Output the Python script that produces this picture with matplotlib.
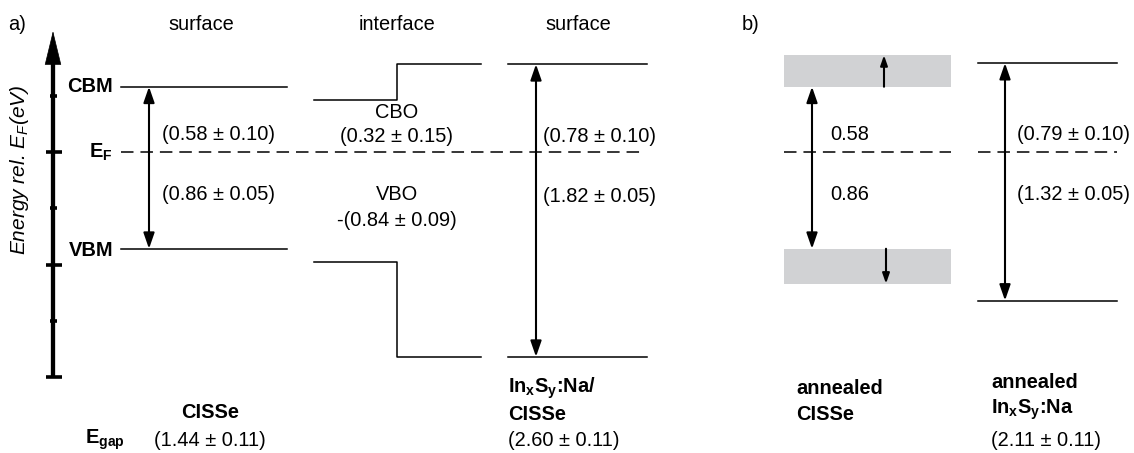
import matplotlib
matplotlib.use('Agg')
import matplotlib.pyplot as plt

plt.rcParams['font.family'] = ['Liberation Sans', 'DejaVu Sans']
plt.rcParams['mathtext.fontset'] = 'custom'
plt.rcParams['mathtext.rm'] = 'Liberation Sans'
plt.rcParams['mathtext.it'] = 'Liberation Sans:italic'
plt.rcParams['mathtext.bf'] = 'Liberation Sans:bold'
plt.rcParams['lines.scale_dashes'] = False

# band energies relative to E_F (eV)
cisse_surface = [0.58, -0.86]          # CBM, VBM
inxsy_surface = [0.78, -1.82]          # CBM, VBM of InxSy:Na/CISSe
cbo, vbo = 0.32, 0.84                  # interface offsets
annealed_cisse_cb = [0.58, 0.86]       # grey range of CBM
annealed_cisse_vb = [-0.86, -1.17]     # grey range of VBM
annealed_inxsy = [0.79, -1.32]
axis_ticks_major = [0, -1, -2]
axis_ticks_minor = [0.5, -0.5, -1.5]

lbl_cisse = ['(0.58 ± 0.10)', '(0.86 ± 0.05)']
lbl_iface = ['CBO', '(0.32 ± 0.15)', 'VBO', '-(0.84 ± 0.09)']
lbl_inxsy = ['(0.78 ± 0.10)', '(1.82 ± 0.05)']
lbl_ann_cisse = ['0.58', '0.86']
lbl_ann_inxsy = ['(0.79 ± 0.10)', '(1.32 ± 0.05)']
egap = ['(1.44 ± 0.11)', '(2.60 ± 0.11)', '(2.11 ± 0.11)']

W, H = 1134, 453
PX_PER_EV = 112.5
Y_EF = 152


def ey(ypix):
    # pixel row -> energy
    return (Y_EF - ypix) / PX_PER_EV


fig = plt.figure(figsize=(W / 100, H / 100), dpi=100)
ax = fig.add_axes([0, 0, 1, 1])
ax.set_xlim(0, W)
ax.set_ylim(ey(H), ey(0))
ax.axis('off')

FS = 14.4
lw_band = 1.1
lw_arr = 1.5


def darrow(x, e1, e2, style='<|-|>', ms=10, hl=0.95, hw=0.33):
    ax.annotate('', xy=(x, e2), xytext=(x, e1),
                arrowprops=dict(arrowstyle=f'{style},head_length={hl},head_width={hw}',
                                lw=lw_arr, color='k', shrinkA=0, shrinkB=0,
                                mutation_scale=ms))


def txt(x, ypix, s, ha='center', bold=False, **kw):
    ax.text(x, ey(ypix), s, ha=ha, va='center', fontsize=FS,
            fontweight='bold' if bold else 'normal', **kw)


# energy axis
ax.plot([53, 53], [axis_ticks_major[-1], ey(60)], color='k', lw=3.1, solid_capstyle='butt')
ax.annotate('', xy=(53, ey(31)), xytext=(53, ey(64)),
            arrowprops=dict(arrowstyle='-|>,head_length=1.15,head_width=0.28',
                            lw=0.5, color='k', shrinkA=0, shrinkB=0, mutation_scale=20))
for t in axis_ticks_major:
    ax.plot([46, 62], [t, t], color='k', lw=2.6, solid_capstyle='butt')
for t in axis_ticks_minor:
    ax.plot([50, 57], [t, t], color='k', lw=2.6, solid_capstyle='butt')
ax.text(20, ey(170), 'Energy rel. $E_F$(eV)', rotation=90, ha='center', va='center',
        fontsize=FS + 0.6, fontstyle='italic')

txt(8, 25, 'a)', ha='left')
txt(742, 25, 'b)', ha='left')
txt(201, 24, 'surface')
txt(397, 24, 'interface')
txt(578, 24, 'surface')

txt(113, 86, 'CBM', ha='right', bold=True)
txt(113, 152, r'$\mathbf{E_F}$', ha='right', bold=True)
txt(113, 250, 'VBM', ha='right', bold=True)

# Fermi level
ax.plot([121, 640], [0, 0], color='k', lw=lw_band, dashes=(9, 5))
ax.plot([784, 951], [0, 0], color='k', lw=lw_band, dashes=(9, 5))
ax.plot([978, 1117], [0, 0], color='k', lw=lw_band, dashes=(9, 5))

# a) CISSe surface
for e in cisse_surface:
    ax.plot([121, 287], [e, e], color='k', lw=lw_band)
darrow(149, cisse_surface[1], cisse_surface[0])
txt(219, 135, lbl_cisse[0])
txt(219, 195, lbl_cisse[1])

# a) interface
cb_c = inxsy_surface[0] - cbo
vb_c = inxsy_surface[1] + vbo
ax.plot([314, 397, 397, 481], [cb_c, cb_c, inxsy_surface[0], inxsy_surface[0]],
        color='k', lw=lw_band)
ax.plot([314, 397, 397, 481], [vb_c, vb_c, inxsy_surface[1], inxsy_surface[1]],
        color='k', lw=lw_band)
txt(397, 113, lbl_iface[0])
txt(397, 137, lbl_iface[1])
txt(397, 195, lbl_iface[2])
txt(397, 220, lbl_iface[3])

# a) InxSy:Na surface
for e in inxsy_surface:
    ax.plot([508, 647], [e, e], color='k', lw=lw_band)
darrow(536, inxsy_surface[1], inxsy_surface[0])
txt(543, 137, lbl_inxsy[0], ha='left')
txt(543, 196, lbl_inxsy[1], ha='left')

# a) bottom labels
txt(210, 412, 'CISSe', bold=True)
txt(85, 440, r'$\mathbf{E_{gap}}$', ha='left', bold=True)
txt(210, 440, egap[0])
txt(508, 388, r'$\mathbf{In_xS_y}$:Na/', ha='left', bold=True)
txt(508, 415, 'CISSe', ha='left', bold=True)
txt(508, 440, egap[1], ha='left')

# b) annealed CISSe
grey = '#d1d2d4'
ax.fill_between([784, 951], annealed_cisse_cb[0], annealed_cisse_cb[1], color=grey, lw=0)
ax.fill_between([784, 951], annealed_cisse_vb[0], annealed_cisse_vb[1], color=grey, lw=0)
darrow(812, annealed_cisse_vb[0], annealed_cisse_cb[0])
darrow(884, annealed_cisse_cb[0], annealed_cisse_cb[1], style='-|>', ms=6, hl=1.0, hw=0.35)
darrow(886, annealed_cisse_vb[0], annealed_cisse_vb[1], style='-|>', ms=6, hl=1.0, hw=0.35)
txt(830, 135, lbl_ann_cisse[0], ha='left')
txt(830, 195, lbl_ann_cisse[1], ha='left')

# b) annealed InxSy:Na
for e in annealed_inxsy:
    ax.plot([978, 1117], [e, e], color='k', lw=lw_band)
darrow(1005, annealed_inxsy[1], annealed_inxsy[0])
txt(1017, 135, lbl_ann_inxsy[0], ha='left')
txt(1017, 195, lbl_ann_inxsy[1], ha='left')

txt(796, 389, 'annealed', ha='left', bold=True)
txt(796, 415, 'CISSe', ha='left', bold=True)
txt(991, 383, 'annealed', ha='left', bold=True)
txt(991, 410, r'$\mathbf{In_xS_y}$:Na', ha='left', bold=True)
txt(991, 440, egap[2], ha='left')

fig.savefig('out.png', dpi=100)
